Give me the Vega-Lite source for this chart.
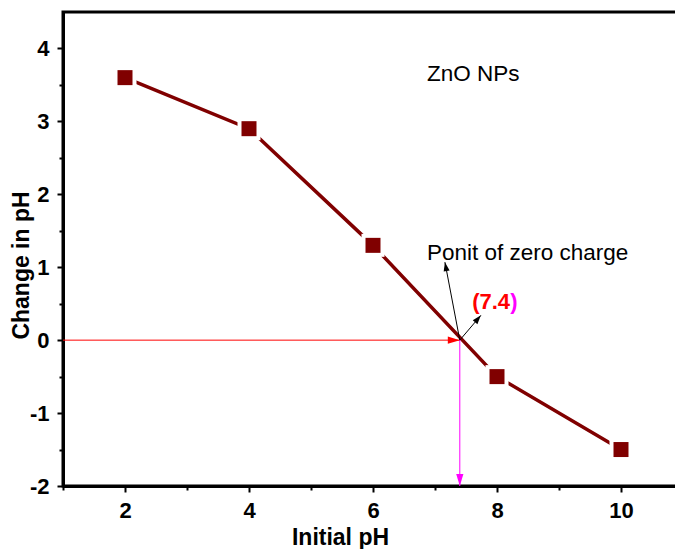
{
  "$schema": "https://vega.github.io/schema/vega-lite/v6.json",
  "width": 620,
  "height": 474,
  "autosize": {"type": "none"},
  "padding": {"left": 63, "top": 12, "right": 0, "bottom": 63},
  "background": "white",
  "config": {
    "font": "Liberation Sans",
    "view": {"stroke": "black", "strokeWidth": 3},
    "axis": {
      "grid": false,
      "domainColor": "black",
      "domainWidth": 3,
      "tickColor": "black",
      "tickWidth": 2,
      "tickSize": 6,
      "labelFont": "Liberation Sans",
      "labelFontSize": 22,
      "labelFontWeight": "bold",
      "labelColor": "black",
      "titleFont": "Liberation Sans",
      "titleFontSize": 23,
      "titleFontWeight": "bold",
      "titleColor": "black"
    }
  },
  "datasets": {
    "ph": [
      {"initial": 2, "change": 3.6},
      {"initial": 4, "change": 2.9},
      {"initial": 6, "change": 1.3},
      {"initial": 8, "change": -0.5},
      {"initial": 10, "change": -1.5}
    ]
  },
  "layer": [
    {
      "data": {"name": "ph"},
      "mark": {"type": "line", "color": "#800000", "strokeWidth": 3.5},
      "encoding": {
        "x": {
          "field": "initial", "type": "quantitative",
          "scale": {"domain": [1, 11], "nice": false, "zero": false},
          "axis": {"orient": "bottom", "values": [2, 4, 6, 8, 10], "labelPadding": 8, "title": "Initial pH", "titleX": 277, "titleY": 51, "titleBaseline": "middle", "titleAnchor": "middle", "labelFlush": false, "labelExpr": "datum.value + ''"}
        },
        "y": {
          "field": "change", "type": "quantitative",
          "scale": {"domain": [-2, 4.5], "nice": false, "zero": false},
          "axis": {"orient": "left", "values": [-2, -1, 0, 1, 2, 3, 4], "labelPadding": 8, "title": "Change in pH", "titleX": -42, "titleY": 253, "titleAngle": -90, "titleBaseline": "middle", "titleAlign": "center", "labelFlush": false, "labelExpr": "datum.value + ''"}
        }
      }
    },
    {
      "data": {"name": "ph"},
      "mark": {"type": "square", "color": "white", "opacity": 1, "size": 529},
      "encoding": {
        "x": {"field": "initial", "type": "quantitative",
          "axis": {"orient": "bottom", "values": [1, 3, 5, 7, 9, 11], "labels": false, "domain": false, "tickSize": 4, "title": null}},
        "y": {"field": "change", "type": "quantitative",
          "axis": {"orient": "left", "values": [-1.5, -0.5, 0.5, 1.5, 2.5, 3.5], "labels": false, "domain": false, "tickSize": 4, "title": null}}
      }
    },
    {
      "data": {"name": "ph"},
      "mark": {"type": "square", "color": "#800000", "opacity": 1, "size": 225},
      "encoding": {
        "x": {"field": "initial", "type": "quantitative", "axis": null},
        "y": {"field": "change", "type": "quantitative", "axis": null}
      }
    },
    {
      "data": {"values": [{"x": 1, "x2": 7.4, "y": 0}]},
      "mark": {"type": "rule", "color": "#ff0000", "strokeWidth": 1},
      "encoding": {
        "x": {"field": "x", "type": "quantitative", "axis": null},
        "x2": {"field": "x2"},
        "y": {"field": "y", "type": "quantitative", "axis": null}
      }
    },
    {
      "data": {"values": [{"x": 7.4, "y": 0}]},
      "mark": {"type": "point", "shape": "M0,0 L-2,-0.6 L-2,0.6 Z", "size": 144, "filled": true, "color": "#ff0000", "opacity": 1},
      "encoding": {
        "x": {"field": "x", "type": "quantitative", "axis": null},
        "y": {"field": "y", "type": "quantitative", "axis": null}
      }
    },
    {
      "data": {"values": [{"x": 7.4, "y": 0, "y2": -2}]},
      "mark": {"type": "rule", "color": "#ff00ff", "strokeWidth": 1},
      "encoding": {
        "x": {"field": "x", "type": "quantitative", "axis": null},
        "y": {"field": "y", "type": "quantitative", "axis": null},
        "y2": {"field": "y2"}
      }
    },
    {
      "data": {"values": [{"x": 7.4, "y": -2}]},
      "mark": {"type": "point", "shape": "M0,0 L-2,-0.6 L-2,0.6 Z", "angle": 90, "size": 144, "filled": true, "color": "#ff00ff", "opacity": 1},
      "encoding": {
        "x": {"field": "x", "type": "quantitative", "axis": null},
        "y": {"field": "y", "type": "quantitative", "axis": null}
      }
    },
    {
      "data": {"values": [{"x": 7.4, "y": 0, "x2": 7.16, "y2": 1.07}, {"x": 7.4, "y": 0, "x2": 7.74, "y2": 0.34}]},
      "mark": {"type": "rule", "color": "black", "strokeWidth": 1},
      "encoding": {
        "x": {"field": "x", "type": "quantitative", "axis": null},
        "y": {"field": "y", "type": "quantitative", "axis": null},
        "x2": {"field": "x2"},
        "y2": {"field": "y2"}
      }
    },
    {
      "data": {"values": [{"x": 7.16, "y": 1.07}]},
      "mark": {"type": "point", "shape": "M0,0 L-1.8,-0.6 L-1.8,0.6 Z", "angle": 259, "size": 100, "filled": true, "color": "black", "opacity": 1},
      "encoding": {
        "x": {"field": "x", "type": "quantitative", "axis": null},
        "y": {"field": "y", "type": "quantitative", "axis": null}
      }
    },
    {
      "data": {"values": [{"x": 7.74, "y": 0.34}]},
      "mark": {"type": "point", "shape": "M0,0 L-1.8,-0.6 L-1.8,0.6 Z", "angle": 310, "size": 100, "filled": true, "color": "black", "opacity": 1},
      "encoding": {
        "x": {"field": "x", "type": "quantitative", "axis": null},
        "y": {"field": "y", "type": "quantitative", "axis": null}
      }
    },
    {
      "data": {"values": [{"x": 6.87, "y": 3.56, "label": "ZnO NPs"}, {"x": 6.87, "y": 1.1, "label": "Ponit of zero charge"}]},
      "mark": {"type": "text", "align": "left", "baseline": "alphabetic", "fontSize": 22.5, "font": "Liberation Sans", "color": "black"},
      "encoding": {
        "x": {"field": "x", "type": "quantitative", "axis": null},
        "y": {"field": "y", "type": "quantitative", "axis": null},
        "text": {"field": "label"}
      }
    },
    {
      "data": {"values": [{"x": 7.6, "y": 0.425, "label": "(7.4"}]},
      "mark": {"type": "text", "align": "left", "baseline": "alphabetic", "fontSize": 22, "fontWeight": "bold", "font": "Liberation Sans", "color": "#ff0000"},
      "encoding": {
        "x": {"field": "x", "type": "quantitative", "axis": null},
        "y": {"field": "y", "type": "quantitative", "axis": null},
        "text": {"field": "label"}
      }
    },
    {
      "data": {"values": [{"x": 7.6, "y": 0.425, "label": ")"}]},
      "mark": {"type": "text", "align": "left", "baseline": "alphabetic", "dx": 38, "fontSize": 22, "fontWeight": "bold", "font": "Liberation Sans", "color": "#ff00ff"},
      "encoding": {
        "x": {"field": "x", "type": "quantitative", "axis": null},
        "y": {"field": "y", "type": "quantitative", "axis": null},
        "text": {"field": "label"}
      }
    }
  ],
  "resolve": {"axis": {"x": "independent", "y": "independent"}}
}
